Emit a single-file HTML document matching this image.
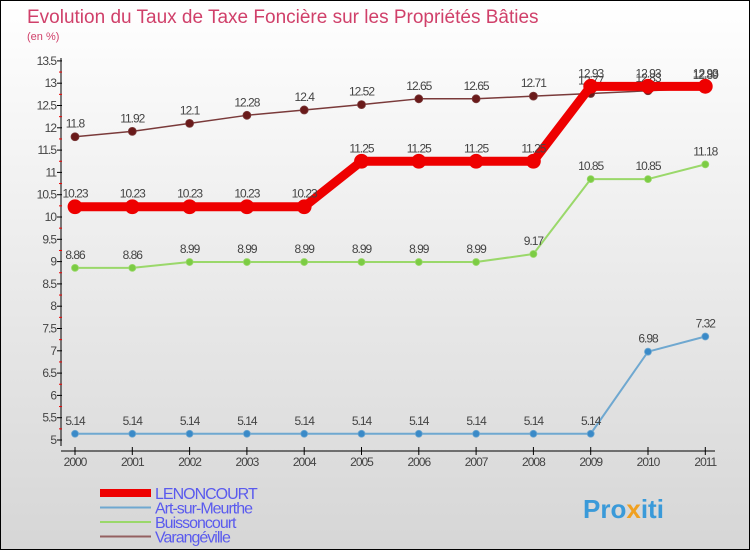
<!DOCTYPE html>
<html><head><meta charset="utf-8"><style>
body{margin:0}
#c{width:750px;height:550px;position:relative;overflow:hidden;font-family:"Liberation Sans",sans-serif}
svg text{font-family:"Liberation Sans",sans-serif}
</style></head><body>
<div id="c">
<svg id="s" width="750" height="550" xmlns="http://www.w3.org/2000/svg">
<defs><linearGradient id="bg" x1="0" y1="0" x2="0" y2="1"><stop offset="0" stop-color="#ffffff"/><stop offset="1" stop-color="#d6d6d6"/></linearGradient></defs>
<rect x="0.5" y="0.5" width="749" height="549" fill="url(#bg)" stroke="#000"/>
<text x="27" y="23" font-size="19" fill="#d0406a">Evolution du Taux de Taxe Foncière sur les Propriétés Bâties</text>
<text x="27" y="40" font-size="11" fill="#d0406a">(en %)</text>
<g id="axes"></g><g id="series"></g><g id="legend"></g>
<text x="583" y="518" font-size="26" font-weight="bold" fill="#3a9ad9">Pro<tspan fill="#f0a020">x</tspan>iti</text>
</svg></div>
<script>
const years=[2000,2001,2002,2003,2004,2005,2006,2007,2008,2009,2010,2011];
const yTicks=[5,5.5,6,6.5,7,7.5,8,8.5,9,9.5,10,10.5,11,11.5,12,12.5,13,13.5];
const lenoncourt=[10.23,10.23,10.23,10.23,10.23,11.25,11.25,11.25,11.25,12.93,12.93,12.93];
const artSurMeurthe=[5.14,5.14,5.14,5.14,5.14,5.14,5.14,5.14,5.14,5.14,6.98,7.32];
const buissoncourt=[8.86,8.86,8.99,8.99,8.99,8.99,8.99,8.99,9.17,10.85,10.85,11.18];
const varangeville=[11.8,11.92,12.1,12.28,12.4,12.52,12.65,12.65,12.71,12.77,12.83,12.89];
const NS="http://www.w3.org/2000/svg";
const X=i=>75+i*57.3, Y=v=>440-(v-5)*44.6;
function mk(t,a,p){const e=document.createElementNS(NS,t);for(const k in a)e.setAttribute(k,a[k]);p.appendChild(e);return e;}
const ax=document.getElementById('axes');
let e=mk('line',{x1:61,y1:58,x2:61,y2:446,stroke:'#000'},ax);


e=mk('line',{x1:61,y1:451,x2:715,y2:451,stroke:'#000'},ax);


yTicks.forEach((v,i)=>{
 mk('line',{x1:57,y1:Y(v),x2:62,y2:Y(v),stroke:'#000'},ax);
 if(i<yTicks.length-1)mk('line',{x1:59,y1:Y(v+0.25),x2:62,y2:Y(v+0.25),stroke:'#e00'},ax);
 const t=mk('text',{x:56,y:Y(v)+4,'font-size':12,fill:'#444','text-anchor':'end','letter-spacing':'-1'},ax);t.textContent=v;
 
 
});
years.forEach((y,i)=>{
 mk('line',{x1:X(i),y1:447,x2:X(i),y2:455,stroke:'#000'},ax);
 const t=mk('text',{x:X(i),y:466,'font-size':12,fill:'#444','text-anchor':'middle','letter-spacing':'-1'},ax);t.textContent=y;
 
 
});
const sg=document.getElementById('series');
function series(vals,color,w,r,name,dot){
 const g=mk('g',{},sg);
 
 
 const l=mk('polyline',{points:vals.map((v,i)=>X(i)+','+Y(v)).join(' '),fill:'none',stroke:color,'stroke-width':w,'stroke-linejoin':'round'},g);
 
 
 vals.forEach((v,i)=>{
  const c=mk('circle',{cx:X(i),cy:Y(v),r:r,fill:dot,stroke:color,'stroke-width':0.8},g);
  
  
  const t=mk('text',{x:X(i),y:Y(v)-9,'font-size':12,fill:'#444','text-anchor':'middle','letter-spacing':'-1'},g);t.textContent=v;
  
  
 });
}
series(artSurMeurthe,'#6fa8d0',2,3.5,'art-sur-meurthe','#3a8ac8');
series(buissoncourt,'#9ad86a',2,3.5,'buissoncourt','#7ccc44');
series(varangeville,'#7a3a3a',1.5,4,'varangeville','#6a1a1a');
series(lenoncourt,'#ee0000',9,7,'lenoncourt','#ee0000');
const lg=document.getElementById('legend');
const leg=[['LENONCOURT','#ee0000',8],['Art-sur-Meurthe','#6fa8d0',2],['Buissoncourt','#9ad86a',2],['Varangéville','#946060',2]];
leg.forEach((d,i)=>{
 const y=493+i*14.5;
 const l=mk('line',{x1:100,y1:y,x2:151,y2:y,stroke:d[1],'stroke-width':d[2]},lg);
 
 
 const t=mk('text',{x:155,y:y+6,'font-size':16,fill:'#5a5aee','letter-spacing':'-1'},lg);t.textContent=d[0];
 
 
});
</script>
</body></html>
